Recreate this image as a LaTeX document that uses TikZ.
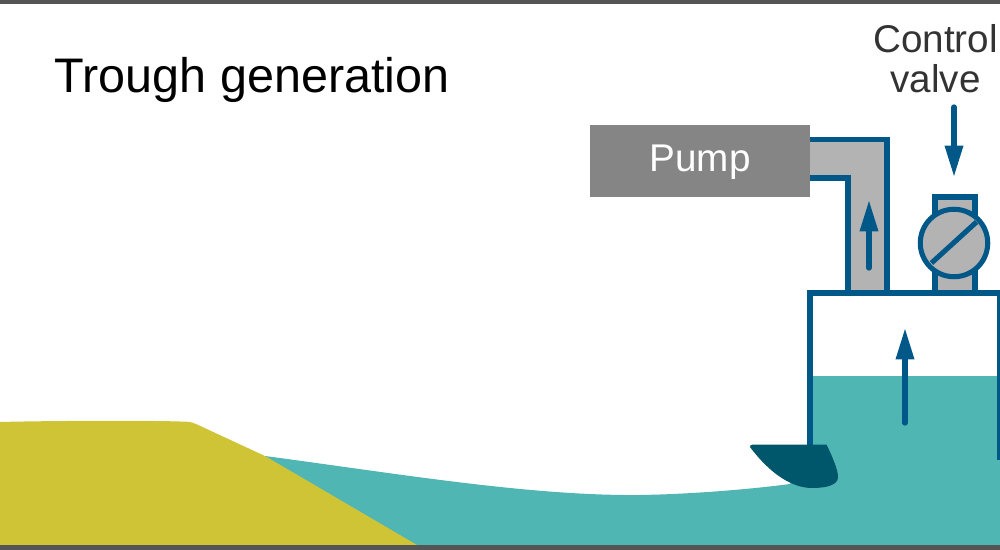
\documentclass[tikz,border=0pt]{standalone}
\usepackage{fontspec}
\setmainfont{Liberation Sans}
\usetikzlibrary{arrows.meta}
\definecolor{frame}{HTML}{555555}
\definecolor{teal}{HTML}{4FB6B3}
\definecolor{sand}{HTML}{CFC436}
\definecolor{blue}{HTML}{005888}
\definecolor{nozzle}{HTML}{00566B}
\definecolor{pipe}{HTML}{B3B3B3}
\definecolor{pumpc}{HTML}{858585}
\definecolor{labelc}{HTML}{333333}
\tikzset{
  wall/.style={draw=blue,line width=3.8pt,line join=miter},
  flow/.style={draw=blue,line width=4pt,line cap=round,-{Triangle[length=23.5pt,width=13pt]}},
  lab/.style={inner sep=0pt,font=\fontsize{29}{30}\selectfont},
}
\begin{document}
\begin{tikzpicture}[x=0.75pt,y=-0.75pt]
\useasboundingbox (0,0) rectangle (1000,550);
% water
\fill[teal] (265,456) .. controls (400,474) and (530,496) .. (640,495)
  .. controls (700,494) and (760,488) .. (790,484) -- (812,445) -- (812,376) -- (1000,376) -- (1000,545) -- (300,545) -- cycle;
% sand
\fill[sand] (0,422) .. controls (60,420.5) and (150,420.5) .. (180,421.5) .. controls (188,421.5) and (192,422) .. (196,424) -- (265,456) -- (417,545) -- (0,545) -- cycle;
% pipe
\fill[pipe] (810,139.5) -- (887,139.5) -- (887,293) -- (848,293) -- (848,178) -- (810,178) -- cycle;
\draw[wall] (810,139.5) -- (887,139.5) -- (887,293);
\draw[wall] (810,178) -- (848,178) -- (848,293);
% pump
\node[fill=pumpc,minimum width=165pt,minimum height=54pt,inner sep=0pt] (pump) at (700,161) {};
\node[lab,anchor=base,text=white] (pumptext) at (700,171.7) {Pump};
% valve
\fill[pipe] (935,197) rectangle (975,293);
\draw[wall] (935,293) -- (935,197) -- (975,197) -- (975,293);
\draw[wall,fill=pipe] (954,243) circle[radius=25.3pt];
\draw[wall] (931.5,263) -- (976.5,222);
% chamber
\draw[wall] (810,446) -- (810,293) -- (1000,293);
\draw[draw=blue,line width=3.4pt] (999.5,293) -- (999.5,460);
% nozzle
\fill[nozzle] (750,447) .. controls (750,445.5) and (751,444.5) .. (753,444.5) -- (826.5,444.5)
  .. controls (833,458) and (838,470) .. (838,477) .. controls (838,485) and (827,488) .. (812,488)
  .. controls (793,488) and (771,475) .. cycle;
% arrows
\coordinate (a1s) at (869,268); \coordinate (a1e) at (869,200);
\draw[flow] (a1s) -- (a1e);
\coordinate (a2s) at (954,107); \coordinate (a2e) at (954,177);
\draw[flow] (a2s) -- (a2e);
\coordinate (a3s) at (905,423); \coordinate (a3e) at (905,328);
\draw[flow] (a3s) -- (a3e);
% frame
\fill[frame] (0,0) rectangle (1000,4);
\fill[frame] (0,545) rectangle (1000,550);
% text
\node[anchor=base west,inner sep=0pt,font=\fontsize{36.4}{40}\selectfont] (title) at (54.5,92.7) {Trough generation};
\node[lab,anchor=base,text=labelc] (cv1) at (935.5,52) {Control};
\node[lab,anchor=base,text=labelc] (cv2) at (935.5,92) {valve};
\end{tikzpicture}
\end{document}
